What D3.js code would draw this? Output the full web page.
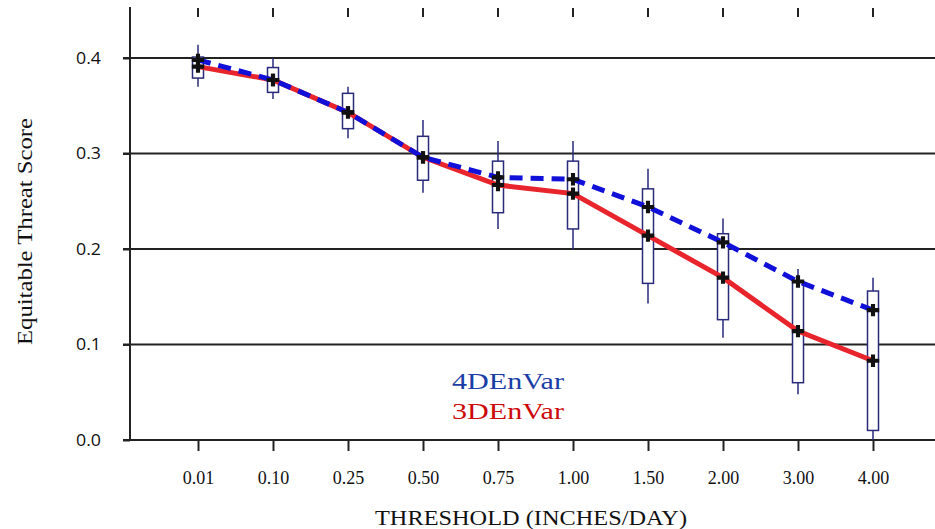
<!DOCTYPE html>
<html><head><meta charset="utf-8">
<script src="https://cdn.jsdelivr.net/npm/d3@7"></script>
<style>body{margin:0;background:#fff}svg{display:block}</style>
</head><body><svg id="c" width="935" height="529"></svg>
<script>
const thresholds = ["0.01","0.10","0.25","0.50","0.75","1.00","1.50","2.00","3.00","4.00"];
const ets4D = [0.398,0.377,0.343,0.296,0.275,0.273,0.244,0.207,0.166,0.136];
const ets3D = [0.391,0.377,0.343,0.296,0.267,0.258,0.214,0.170,0.114,0.083];
const boxLow = [0.379,0.364,0.326,0.272,0.238,0.221,0.164,0.126,0.060,0.010];
const boxHigh = [0.401,0.390,0.363,0.318,0.292,0.292,0.263,0.216,0.166,0.156];
const whiskLow = [0.370,0.357,0.316,0.259,0.221,0.199,0.143,0.107,0.048,0.000];
const whiskHigh = [0.414,0.400,0.370,0.335,0.313,0.313,0.284,0.232,0.179,0.170];
const yTicks = [0.0,0.1,0.2,0.3,0.4];

const svg = d3.select("#c");
const x = d3.scalePoint().domain(thresholds).range([198,873]);
const y = d3.scaleLinear().domain([0,0.4]).range([440,58]);

// gridlines
svg.append("g").selectAll("line").data(yTicks.slice(1)).join("line")
  .attr("x1",123).attr("x2",935).attr("y1",d=>y(d)).attr("y2",d=>y(d))
  .attr("stroke","#222").attr("stroke-width",2);

// y axis
const ya = svg.append("g").attr("transform","translate(130,0)")
  .call(d3.axisLeft(y).tickValues(yTicks).tickFormat(d3.format(".1f")).tickSize(7).tickPadding(22));
ya.select(".domain").remove();
ya.selectAll("line").attr("stroke","#222").attr("stroke-width",2);
ya.selectAll("text").attr("font-family","'Open Sans', sans-serif").attr("font-size",15.5).attr("fill","#111")
  .attr("textLength",25).attr("lengthAdjust","spacingAndGlyphs").attr("dy","0.34em");
svg.append("line").attr("x1",130).attr("x2",130).attr("y1",7).attr("y2",441).attr("stroke","#222").attr("stroke-width",2);

// x axis bottom
const xa = svg.append("g").attr("transform","translate(0,440)")
  .call(d3.axisBottom(x).tickSize(11).tickPadding(20));
xa.select(".domain").remove();
xa.selectAll("line").attr("stroke","#222").attr("stroke-width",2);
xa.selectAll("text").attr("font-family","'Liberation Serif', 'Times New Roman', serif").attr("font-size",18).attr("fill","#111");
svg.append("line").attr("x1",123).attr("x2",935).attr("y1",440).attr("y2",440).attr("stroke","#222").attr("stroke-width",2);
// top ticks
svg.append("g").selectAll("line").data(thresholds).join("line")
  .attr("x1",d=>x(d)).attr("x2",d=>x(d)).attr("y1",8).attr("y2",17)
  .attr("stroke","#222").attr("stroke-width",2);

// boxes
const bw = 11;
const bx = svg.append("g");
thresholds.forEach((t,i)=>{
  const cx = x(t);
  bx.append("line").attr("x1",cx).attr("x2",cx).attr("y1",y(whiskHigh[i])).attr("y2",y(whiskLow[i]))
    .attr("stroke","#2a2a7a").attr("stroke-width",1.5);
  bx.append("rect").attr("x",cx-bw/2).attr("width",bw).attr("y",y(boxHigh[i])).attr("height",y(boxLow[i])-y(boxHigh[i]))
    .attr("fill","#fff").attr("stroke","#2a2a7a").attr("stroke-width",1.5);
});

const line = d3.line().x((d,i)=>x(thresholds[i])).y(d=>y(d));
svg.append("path").datum(ets3D).attr("d",line).attr("fill","none")
  .attr("stroke","#e8242c").attr("stroke-width",5);
svg.append("path").datum(ets4D).attr("d",line).attr("fill","none")
  .attr("stroke","#1010d8").attr("stroke-width",5).attr("stroke-dasharray","13,8");

// markers
const plus = d3.symbol().type(d3.symbolCross).size(85);
[ets3D, ets4D].forEach(s=>{
  svg.append("g").selectAll("path").data(s).join("path")
    .attr("d",plus).attr("transform",(d,i)=>`translate(${x(thresholds[i])},${y(d)})`)
    .attr("fill","#111");
});

// legend
svg.append("text").attr("x",452).attr("y",389).attr("font-family","'Liberation Serif', serif").attr("font-size",24)
  .attr("fill","#1a3ea6").attr("textLength",112).attr("lengthAdjust","spacingAndGlyphs").text("4DEnVar");
svg.append("text").attr("x",452).attr("y",419).attr("font-family","'Liberation Serif', serif").attr("font-size",24)
  .attr("fill","#cc0a0a").attr("textLength",112).attr("lengthAdjust","spacingAndGlyphs").text("3DEnVar");

// axis titles
svg.append("text").attr("x",375).attr("y",525)
  .attr("font-family","'Liberation Serif', serif").attr("font-size",21).attr("fill","#111")
  .attr("textLength",312).attr("lengthAdjust","spacingAndGlyphs")
  .text("THRESHOLD (INCHES/DAY)");
svg.append("text").attr("transform","translate(32,345) rotate(-90)")
  .attr("font-family","'Liberation Serif', serif").attr("font-size",21).attr("fill","#111")
  .attr("textLength",227).attr("lengthAdjust","spacingAndGlyphs")
  .text("Equitable Threat Score");
</script></body></html>
